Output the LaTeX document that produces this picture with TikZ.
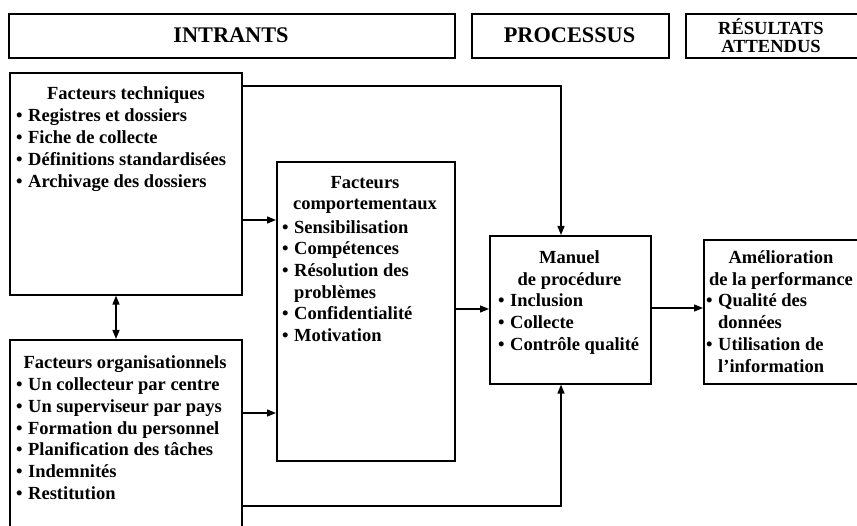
\documentclass[tikz,border=0pt]{standalone}
\usepackage{fontspec}
\setmainfont{Liberation Serif}
\usetikzlibrary{arrows.meta}
\tikzset{
  box/.style={draw, line width=1.6pt, inner sep=0pt, anchor=north west},
  txt/.style={inner sep=0pt, anchor=base west, font=\bfseries\fontsize{18.5}{21.8}\selectfont},
  ctxt/.style={txt, anchor=base},
  head/.style={inner sep=0pt, font=\bfseries\fontsize{22.3}{24}\selectfont},
  conn/.style={line width=1.3pt, -{Triangle[length=9pt,width=7pt]}},
  conntwo/.style={line width=1.3pt, {Triangle[length=9pt,width=7pt]}-{Triangle[length=9pt,width=7pt]}},
}
\newcommand\bw{12pt}
\newcommand\bul[1]{\makebox[\bw][l]{•}#1}
\begin{document}
\begin{tikzpicture}[x=1pt,y=-1pt]
\useasboundingbox (0,0) rectangle (857,526);
% header boxes
\node[box, minimum width=446pt, minimum height=44pt] (intr) at (8,13) {};
\node[box, minimum width=197pt, minimum height=44pt] (proc) at (471,13) {};
\node[box, minimum width=180pt, minimum height=44pt] (res) at (685,13) {};
\node[head] (tIn) at (231,35) {INTRANTS};
\node[head] (tPr) at (569.5,35) {PROCESSUS};
\node[inner sep=0pt, align=center, font=\bfseries\fontsize{18.5}{17.5}\selectfont] (tRe) at (771,35.5) {RÉSULTATS\\ATTENDUS};
% main boxes
\node[box, minimum width=232pt, minimum height=222pt] (tech) at (9,72) {};
\node[box, minimum width=232pt, minimum height=200pt] (org) at (9,339) {};
\node[box, minimum width=178pt, minimum height=299pt] (comp) at (276,161) {};
\node[box, minimum width=161pt, minimum height=148pt] (man) at (489,235) {};
\node[box, minimum width=165pt, minimum height=144pt] (amel) at (703,239) {};
% technical factors
\node[ctxt] (te0) at (126,100) {Facteurs techniques};
\node[txt] (te1) at (16,122) {\bul{Registres et dossiers}};
\node[txt] (te2) at (16,144) {\bul{Fiche de collecte}};
\node[txt] (te3) at (16,166) {\bul{Définitions standardisées}};
\node[txt] (te4) at (16,188) {\bul{Archivage des dossiers}};
% organisational factors
\node[ctxt] (or0) at (125,369) {Facteurs organisationnels};
\node[txt] (or1) at (16,390.5) {\bul{Un collecteur par centre}};
\node[txt] (or2) at (16,412.3) {\bul{Un superviseur par pays}};
\node[txt] (or3) at (16,434.1) {\bul{Formation du personnel}};
\node[txt] (or4) at (16,455.9) {\bul{Planification des tâches}};
\node[txt] (or5) at (16,477.7) {\bul{Indemnités}};
\node[txt] (or6) at (16,499.5) {\bul{Restitution}};
% behavioural factors
\node[ctxt] (co0) at (365,189) {Facteurs};
\node[ctxt] (co1) at (365,210) {comportementaux};
\node[txt] (co2) at (282,233.5) {\bul{Sensibilisation}};
\node[txt] (co3) at (282,255) {\bul{Compétences}};
\node[txt] (co4) at (282,276.5) {\bul{Résolution des}};
\node[txt] (co5) at (282,298.5) {\hspace*{\bw}problèmes};
\node[txt] (co6) at (282,320) {\bul{Confidentialité}};
\node[txt] (co7) at (282,341.5) {\bul{Motivation}};
% manual
\node[ctxt] (ma0) at (569.5,263.5) {Manuel};
\node[ctxt] (ma1) at (569.5,285.5) {de procédure};
\node[txt] (ma2) at (498,307) {\bul{Inclusion}};
\node[txt] (ma3) at (498,328.5) {\bul{Collecte}};
\node[txt] (ma4) at (498,350.5) {\bul{Contrôle qualité}};
% improvement
\node[ctxt] (am0) at (781,263.5) {Amélioration};
\node[ctxt] (am1) at (781,285.5) {de la performance};
\node[txt] (am2) at (706,307) {\bul{Qualité des}};
\node[txt] (am3) at (706,328.5) {\hspace*{\bw}données};
\node[txt] (am4) at (706,350.5) {\bul{Utilisation de}};
\node[txt] (am5) at (706,372.5) {\hspace*{\bw}l’information};
% connectors
\coordinate (v1) at (561,86);
\draw[conn] (tech.east |- v1) -- (v1) -- (man.north -| v1);
\coordinate (h1) at (0,220);
\draw[conn] (tech.east |- h1) -- (comp.west |- h1);
\coordinate (v2) at (116,0);
\draw[conntwo] (tech.south -| v2) -- (org.north -| v2);
\coordinate (h2) at (0,413);
\draw[conn] (org.east |- h2) -- (comp.west |- h2);
\coordinate (h3) at (0,309);
\draw[conn] (comp.east |- h3) -- (man.west |- h3);
\coordinate (v3) at (561,506);
\draw[conn] (org.east |- v3) -- (v3) -- (man.south -| v3);
\coordinate (h4) at (0,308);
\draw[conn] (man.east |- h4) -- (amel.west |- h4);
\end{tikzpicture}
\end{document}
